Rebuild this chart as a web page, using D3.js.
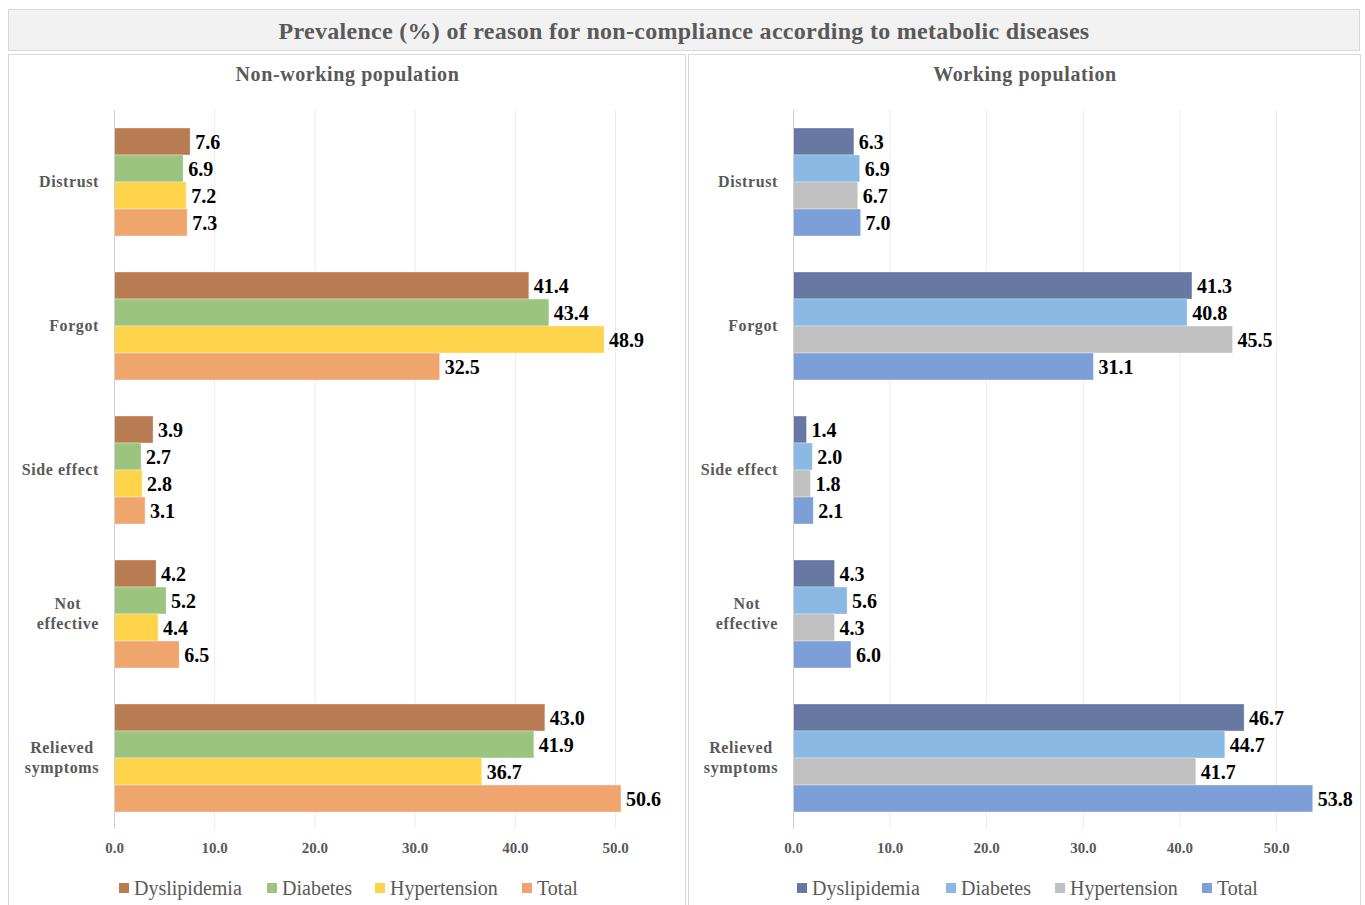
<!DOCTYPE html>
<html><head><meta charset="utf-8">
<script src="https://cdn.jsdelivr.net/npm/d3@7/dist/d3.min.js"></script>
<style>body{margin:0;background:#fff}svg{display:block}</style>
</head><body>
<svg id="c" width="1365" height="905"></svg>
<script>
const categories = ["Distrust", "Forgot", "Side effect", "Not effective", "Relieved symptoms"];
const categoryLines = [["Distrust"], ["Forgot"], ["Side effect"], ["Not", "effective"], ["Relieved", "symptoms"]];
const seriesNames = ["Dyslipidemia", "Diabetes", "Hypertension", "Total"];
const nonWorking = {
  Dyslipidemia: [7.6, 41.4, 3.9, 4.2, 43.0],
  Diabetes: [6.9, 43.4, 2.7, 5.2, 41.9],
  Hypertension: [7.2, 48.9, 2.8, 4.4, 36.7],
  Total: [7.3, 32.5, 3.1, 6.5, 50.6]
};
const working = {
  Dyslipidemia: [6.3, 41.3, 1.4, 4.3, 46.7],
  Diabetes: [6.9, 40.8, 2.0, 5.6, 44.7],
  Hypertension: [6.7, 45.5, 1.8, 4.3, 41.7],
  Total: [7.0, 31.1, 2.1, 6.0, 53.8]
};
const tickValues = [0, 10, 20, 30, 40, 50];
const leftColors = ["#b97c52", "#9bc57f", "#ffd34a", "#f0a46e"];
const rightColors = ["#6779a3", "#8ab9e3", "#c0c0c0", "#7b9fd6"];

const svg = d3.select("#c");
const serif = "'Liberation Serif', 'Times New Roman', serif";

// title box
svg.append("rect").attr("x", 8.5).attr("y", 9.5).attr("width", 1351).attr("height", 41)
  .attr("fill", "#f2f2f2").attr("stroke", "#d9d9d9");
svg.append("text").attr("x", 684).attr("y", 39).attr("text-anchor", "middle")
  .attr("font-family", serif).attr("font-weight", "bold").attr("font-size", 24)
  .attr("fill", "#595959").attr("letter-spacing", 0.3)
  .text("Prevalence (%) of reason for non-compliance according to metabolic diseases");

function panel(cfg) {
  const g = svg.append("g");
  g.append("rect").attr("x", cfg.px + 0.5).attr("y", 54.5).attr("width", cfg.pw).attr("height", 860)
    .attr("fill", "#fff").attr("stroke", "#d9d9d9");
  g.append("text").attr("x", cfg.px + cfg.pw / 2 + 1).attr("y", 81).attr("text-anchor", "middle")
    .attr("font-family", serif).attr("font-weight", "bold").attr("font-size", 20)
    .attr("fill", "#595959").attr("letter-spacing", 0.6).text(cfg.title);

  const x = d3.scaleLinear().domain([0, 50]).range([cfg.x0, cfg.x50]);
  const y = d3.scaleBand().domain(categories).range([110, 830]).paddingInner(0.25).paddingOuter(0.125);
  const yi = d3.scaleBand().domain(seriesNames).range([0, y.bandwidth()]);

  // gridlines
  g.append("g").selectAll("line").data(tickValues.slice(1)).join("line")
    .attr("x1", d => x(d) + 0.5).attr("x2", d => x(d) + 0.5).attr("y1", 110).attr("y2", 829)
    .attr("stroke", "#ececec");

  // bars
  seriesNames.forEach((s, si) => {
    g.append("g").selectAll("rect").data(cfg.data[s]).join("rect")
      .attr("x", x(0)).attr("y", (d, i) => y(categories[i]) + yi(s))
      .attr("width", d => x(d) - x(0)).attr("height", yi.bandwidth())
      .attr("fill", cfg.colors[si]).attr("stroke", "#fff").attr("stroke-opacity", 0.35).attr("stroke-width", 1);
    g.append("g").selectAll("text").data(cfg.data[s]).join("text")
      .attr("x", d => x(d) + 5).attr("y", (d, i) => y(categories[i]) + yi(s) + yi.bandwidth() / 2 + 7)
      .attr("font-family", serif).attr("font-weight", "bold").attr("font-size", 20)
      .attr("fill", "#000").text(d => d.toFixed(1));
  });

  // axis line
  g.append("line").attr("x1", x(0) + 0.5).attr("x2", x(0) + 0.5).attr("y1", 110).attr("y2", 829)
    .attr("stroke", "#d0d0d0");

  // x axis ticks
  const ax = g.append("g").attr("transform", "translate(0,853)")
    .call(d3.axisBottom(x).tickValues(tickValues).tickFormat(d3.format(".1f")).tickSize(0).tickPadding(0));
  ax.select(".domain").remove();
  ax.selectAll("text").attr("font-family", serif).attr("font-weight", "bold").attr("font-size", 15)
    .attr("fill", "#595959").attr("dy", 0);

  // category labels
  categories.forEach((c, i) => {
    const lines = categoryLines[i];
    const cy = y(c) + y.bandwidth() / 2;
    const t = g.append("text").attr("font-family", serif).attr("font-weight", "bold").attr("font-size", 16)
      .attr("fill", "#595959").attr("letter-spacing", 0.6);
    if (lines.length === 1) {
      t.attr("x", cfg.labelRight).attr("y", cy + 5).attr("text-anchor", "end").text(lines[0]);
    } else {
      t.attr("text-anchor", "middle");
      const spans = lines.map((l, li) => t.append("tspan").attr("y", cy + 5 + (li - 0.5) * 20).text(l));
      const w = d3.max(spans, s => s.node().getComputedTextLength());
      spans.forEach(s => s.attr("x", cfg.labelRight - w / 2));
    }
  });

  // legend
  const lg = g.append("g");
  seriesNames.forEach((s, si) => {
    lg.append("rect").attr("x", cfg.legendX[si]).attr("y", 883).attr("width", 10).attr("height", 10)
      .attr("fill", cfg.colors[si]);
    lg.append("text").attr("x", cfg.legendX[si] + 15).attr("y", 895)
      .attr("font-family", serif).attr("font-size", 20).attr("fill", "#595959").text(s);
  });
}

panel({ px: 8, pw: 677, title: "Non-working population", x0: 114, x50: 615, data: nonWorking,
  colors: leftColors, labelRight: 99, legendX: [119, 267, 375, 522] });
panel({ px: 688, pw: 672, title: "Working population", x0: 793, x50: 1276, data: working,
  colors: rightColors, labelRight: 778, legendX: [797, 946, 1055, 1202] });
</script>
</body></html>
